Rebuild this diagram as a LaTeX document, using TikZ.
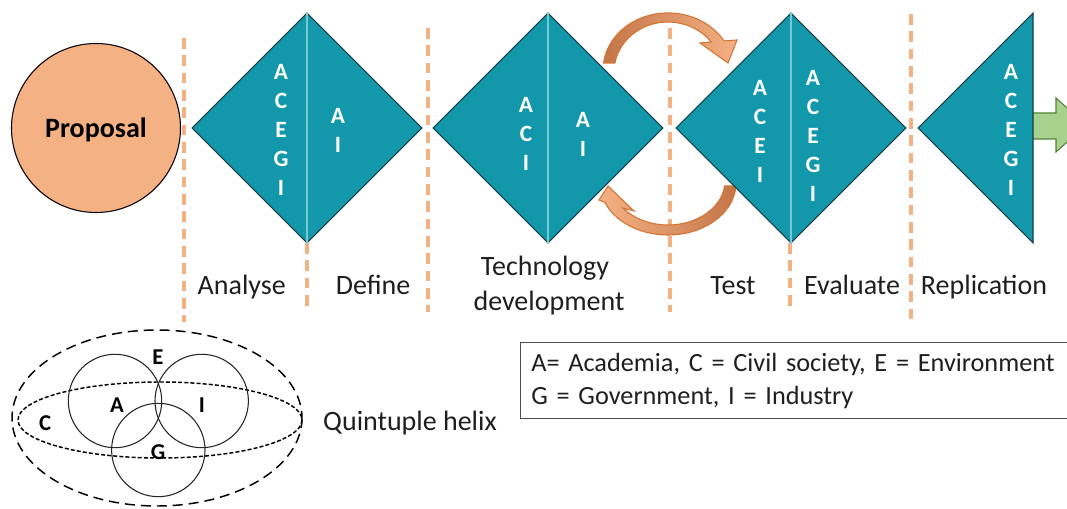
\documentclass[tikz,border=0pt]{standalone}
\usepackage{fontspec}
\setmainfont{Carlito}
\usetikzlibrary{shapes.geometric,calc}
\definecolor{teal1}{RGB}{18,152,170}
\definecolor{tealedge}{RGB}{22,62,68}
\definecolor{tealline}{RGB}{120,200,210}
\definecolor{peach}{RGB}{244,177,131}
\definecolor{arrdark}{RGB}{196,118,72}
\definecolor{arredge}{RGB}{212,116,52}
\definecolor{green1}{RGB}{169,209,142}
\definecolor{greenedge}{RGB}{84,130,53}
\tikzset{
  dia/.style={diamond, aspect=1, inner sep=0pt, minimum width=172.5pt, minimum height=172.5pt, draw=tealedge, line width=0.8pt, fill=teal1},
  halfdia/.style={draw=tealedge, line width=0.8pt, fill=teal1},
  midline/.style={draw=tealline, line width=0.8pt},
  letters/.style={text=white, font=\fontsize{17.5}{21.75}\selectfont\bfseries, align=center, inner sep=0pt},
  helixletter/.style={text=black, font=\fontsize{17}{20}\selectfont\bfseries, inner sep=0pt},
  lab/.style={font=\fontsize{21}{25}\selectfont, text=black!88, inner sep=0pt},
  orangedash/.style={draw=peach, line width=2.6pt, dash pattern=on 8pt off 5pt},
  curvarrow/.style={draw=arredge, line width=0.8pt},
  greenarrow/.style={draw=greenedge, line width=0.8pt, fill=green1},
  proposal/.style={circle, draw=black, line width=0.8pt, fill=peach, minimum size=126.75pt, inner sep=0pt, text depth=0pt, font=\fontsize{21}{25}\selectfont\bfseries},
  legend/.style={draw=black!70, line width=1pt, anchor=north west, minimum height=57pt, text width=414pt, inner xsep=8pt, inner ysep=0pt, align=left, font=\fontsize{19.7}{24.75}\selectfont, text=black!88},
  longdash/.style={draw=black, line width=1.1pt, dash pattern=on 7.5pt off 4.5pt},
  shortdash/.style={draw=black, line width=1.1pt, dash pattern=on 3pt off 1.6pt},
  helixcircle/.style={draw=black!85, line width=0.8pt}
}
\begin{document}
\begin{tikzpicture}[x=0.75pt,y=-0.75pt]
\useasboundingbox (0,0) rectangle (1067,509);
\clip (0,0) rectangle (1067,509);
\fill[white] (0,0) rectangle (1067,509);

% dashed separators
\coordinate (s1a) at (184,38);  \coordinate (s1b) at (184,322);
\coordinate (s2a) at (307,243); \coordinate (s2b) at (307,308);
\coordinate (s3a) at (428,28);  \coordinate (s3b) at (428,312);
\coordinate (s4a) at (670,28);  \coordinate (s4b) at (670,312);
\coordinate (s5a) at (790,243); \coordinate (s5b) at (790,308);
\coordinate (s6a) at (911,14);  \coordinate (s6b) at (911,322);
\foreach \s in {1,...,6} { \draw[orangedash] (s\s a) -- (s\s b); }

% curved arrows
\shadedraw[curvarrow, left color=arrdark, right color=peach]
  (603.5,63) arc[start angle=187, end angle=329.4, x radius=65, y radius=57]
  -- (737,40) -- (728,63) -- (700,43) -- (711.2,42.0)
  arc[start angle=323.13, end angle=190.4, x radius=54, y radius=50] -- cycle;
\shadedraw[curvarrow, left color=peach, right color=arrdark]
  (735.9,186) arc[start angle=3.3, end angle=158, x radius=68, y radius=52]
  -- (599,200) -- (608,186) -- (634,211) -- (623.08,208.09)
  arc[start angle=142, end angle=6.5, x radius=57, y radius=44] -- cycle;

% green arrow
\draw[greenarrow] (1028,113) -- (1056,113) -- (1056,98) -- (1086,125) -- (1056,152) -- (1056,139) -- (1028,139) -- cycle;

% proposal
\node[proposal] (prop) at (96,128) {Proposal};

% diamonds
\node[dia] (d1) at (307,128) {};
\node[dia] (d2) at (548,128) {};
\node[dia] (d3) at (791,128) {};
\coordinate (h1) at (1033,13);
\coordinate (h2) at (918,128);
\coordinate (h3) at (1033,243);
\draw[halfdia] (h1) -- (h2) -- (h3) -- cycle;
\draw[midline] (d1.north) -- (d1.south);
\draw[midline] (d2.north) -- (d2.south);
\draw[midline] (d3.north) -- (d3.south);

% letters
\node[letters] (l1a) at (281,130) {A\\C\\E\\G\\I};
\node[letters] (l1b) at (338,130) {A\\I};
\node[letters] (l2a) at (526,134) {A\\C\\I};
\node[letters] (l2b) at (583,134) {A\\I};
\node[letters] (l3a) at (760,131.5) {A\\C\\E\\I};
\node[letters] (l3b) at (813,135.5) {A\\C\\E\\G\\I};
\node[letters] (l4a) at (1011,130) {A\\C\\E\\G\\I};

% stage labels
\node[lab, anchor=base] (analyse) at (241.7,295) {Analyse};
\node[lab, anchor=base] (define) at (373,295) {Define};
\node[lab, anchor=base] (tech) at (545,276) {Technology};
\node[lab, anchor=base] (dev) at (549,311) {development};
\node[lab, anchor=base] (test) at (733,295) {Test};
\node[lab, anchor=base] (eval) at (852,295) {Evaluate};
\node[lab, anchor=base] (repl) at (984,295) {Replication};

% quintuple helix
\draw[longdash] (157,418) ellipse [x radius=145, y radius=88];
\draw[shortdash] (160,420) ellipse [x radius=142, y radius=38];
\draw[helixcircle] (115,401) circle [radius=46.7];
\draw[helixcircle] (201.7,401) circle [radius=46.7];
\draw[helixcircle] (158.3,450) circle [radius=46.7];
\node[helixletter] (hE) at (158,357) {E};
\node[helixletter] (hA) at (117,405) {A};
\node[helixletter] (hI) at (202,405) {I};
\node[helixletter] (hC) at (45,423) {C};
\node[helixletter] (hG) at (158,452) {G};
\node[lab, anchor=base] (quint) at (410,431) {Quintuple helix};

% legend
\node[legend] (leg) at (520,342) {A= Academia, C = Civil society, E = Environment\\G = Government, I = Industry};
\end{tikzpicture}
\end{document}
